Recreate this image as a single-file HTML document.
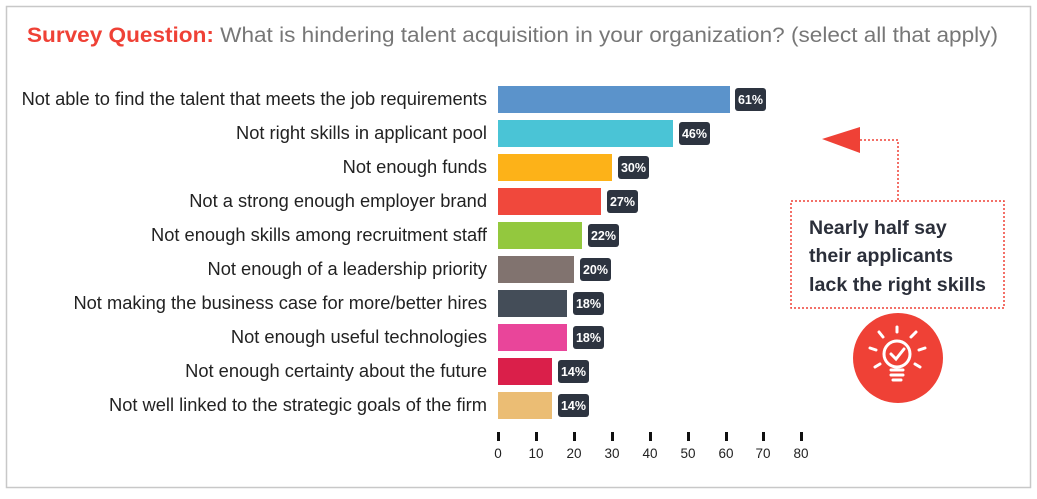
<!DOCTYPE html>
<html><head><meta charset="utf-8"><style>
body{margin:0;background:#fff;width:1037px;height:494px;overflow:hidden;font-family:"Liberation Sans",sans-serif}
</style></head><body>
<svg width="1037" height="494" xmlns="http://www.w3.org/2000/svg" font-family="Liberation Sans, sans-serif">
<rect x="6.5" y="6.5" width="1024" height="481" fill="#fff" stroke="#c8c8c8" stroke-width="1.5"/>
<text x="27" y="42" font-size="21" fill="#777" textLength="971" lengthAdjust="spacingAndGlyphs"><tspan fill="#ef4136" font-weight="bold">Survey Question:</tspan> What is hindering talent acquisition in your organization? (select all that apply)</text>
<g font-size="18.3" fill="#222" text-anchor="end">
<text x="487" y="105">Not able to find the talent that meets the job requirements</text>
<text x="487" y="139">Not right skills in applicant pool</text>
<text x="487" y="173">Not enough funds</text>
<text x="487" y="207">Not a strong enough employer brand</text>
<text x="487" y="241">Not enough skills among recruitment staff</text>
<text x="487" y="275">Not enough of a leadership priority</text>
<text x="487" y="309">Not making the business case for more/better hires</text>
<text x="487" y="343">Not enough useful technologies</text>
<text x="487" y="377">Not enough certainty about the future</text>
<text x="487" y="411">Not well linked to the strategic goals of the firm</text>
</g>
<g>
<rect x="498" y="86" width="232" height="27" fill="#5b93cb"/>
<rect x="498" y="120" width="175" height="27" fill="#4ac4d6"/>
<rect x="498" y="154" width="114" height="27" fill="#fdb218"/>
<rect x="498" y="188" width="103" height="27" fill="#f0483c"/>
<rect x="498" y="222" width="84" height="27" fill="#93c83e"/>
<rect x="498" y="256" width="76" height="27" fill="#81736f"/>
<rect x="498" y="290" width="69" height="27" fill="#444d58"/>
<rect x="498" y="324" width="69" height="27" fill="#e9459a"/>
<rect x="498" y="358" width="54" height="27" fill="#da1f4a"/>
<rect x="498" y="392" width="54" height="27" fill="#ebbd74"/>
</g>
<g fill="#2d3440">
<rect x="735" y="88" width="31" height="23" rx="3"/>
<rect x="679" y="122" width="31" height="23" rx="3"/>
<rect x="618" y="156" width="31" height="23" rx="3"/>
<rect x="607" y="190" width="31" height="23" rx="3"/>
<rect x="588" y="224" width="31" height="23" rx="3"/>
<rect x="580" y="258" width="31" height="23" rx="3"/>
<rect x="573" y="292" width="31" height="23" rx="3"/>
<rect x="573" y="326" width="31" height="23" rx="3"/>
<rect x="558" y="360" width="31" height="23" rx="3"/>
<rect x="558" y="394" width="31" height="23" rx="3"/>
</g>
<g fill="#fff" font-size="12.5" font-weight="bold" text-anchor="middle">
<text x="750.5" y="104">61%</text>
<text x="694.5" y="138">46%</text>
<text x="633.5" y="172">30%</text>
<text x="622.5" y="206">27%</text>
<text x="603.5" y="240">22%</text>
<text x="595.5" y="274">20%</text>
<text x="588.5" y="308">18%</text>
<text x="588.5" y="342">18%</text>
<text x="573.5" y="376">14%</text>
<text x="573.5" y="410">14%</text>
</g>
<g fill="#111">
<rect x="497" y="432" width="3" height="9"/><rect x="535" y="432" width="3" height="9"/><rect x="573" y="432" width="3" height="9"/><rect x="611" y="432" width="3" height="9"/><rect x="649" y="432" width="3" height="9"/><rect x="687" y="432" width="3" height="9"/><rect x="725" y="432" width="3" height="9"/><rect x="762" y="432" width="3" height="9"/><rect x="800" y="432" width="3" height="9"/>
</g>
<g font-size="13.5" fill="#222" text-anchor="middle">
<text x="498" y="458">0</text><text x="536" y="458">10</text><text x="574" y="458">20</text><text x="612" y="458">30</text><text x="650" y="458">40</text><text x="688" y="458">50</text><text x="726" y="458">60</text><text x="763" y="458">70</text><text x="801" y="458">80</text>
</g>
<polyline points="898,200 898,140 860,140" fill="none" stroke="#ef4136" stroke-width="1.5" stroke-dasharray="2,2"/>
<polygon points="822,139 860,127 860,153" fill="#ef4136"/>
<rect x="791" y="201" width="213" height="107" fill="none" stroke="#ef4136" stroke-width="1.5" stroke-dasharray="2,2"/>
<g font-size="19.5" font-weight="bold" fill="#2b2f3a">
<text x="809" y="234">Nearly half say</text>
<text x="809" y="262">their applicants</text>
<text x="809" y="291" textLength="177" lengthAdjust="spacingAndGlyphs">lack the right skills</text>
</g>
<circle cx="898" cy="358" r="45" fill="#ef4136"/>
<g stroke="#fff" stroke-width="3" stroke-linecap="round" fill="none">
<circle cx="897" cy="354" r="13"/>
<polyline points="891,354 896,359 904,349"/>
<line x1="891" y1="370" x2="903" y2="370"/><line x1="891" y1="375" x2="903" y2="375"/><line x1="893" y1="380" x2="901" y2="380"/>
<line x1="879" y1="332" x2="883" y2="337"/><line x1="916" y1="332" x2="911" y2="337"/>
<line x1="870" y1="348" x2="876" y2="350"/><line x1="925" y1="348" x2="919" y2="350"/>
<line x1="875" y1="367" x2="880" y2="364"/><line x1="920" y1="367" x2="915" y2="364"/>
<line x1="897" y1="327" x2="897" y2="332"/>
</g>
</svg>
</body></html>
